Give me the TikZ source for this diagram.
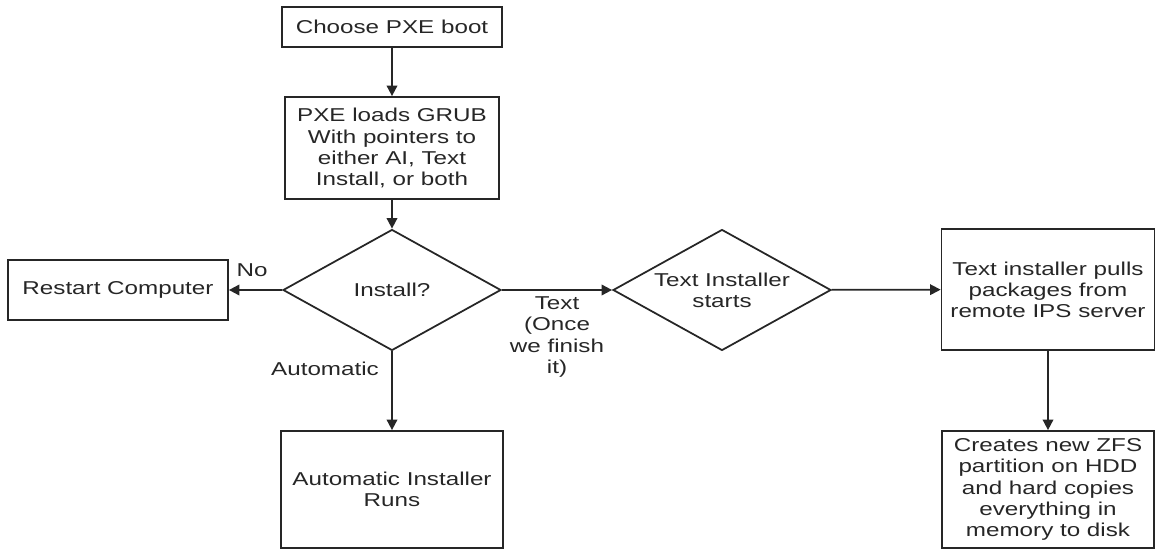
\documentclass[tikz,border=0pt]{standalone}
\usepackage{fontspec}
\setmainfont{Liberation Sans}[FakeStretch=1.3]
\usetikzlibrary{shapes.geometric,arrows.meta}

\begin{document}
\begin{tikzpicture}[x=0.02cm,y=-0.02cm,color=black!85,line width=1pt,
    txt/.style={align=center, font=\fontsize{10.6}{12}\selectfont},
    box/.style={draw, rectangle, inner sep=2pt, txt},
    ask/.style={draw, diamond, inner sep=0pt, minimum width=4.36cm, minimum height=2.42cm,
        label={[txt]center:#1}},
    flow/.style={-{Triangle[length=6pt,width=6pt]}}]
    \useasboundingbox (0,0) rectangle (1156,550);
    \node[box, minimum width=4.4cm, minimum height=0.8cm] (choose) at (392,27) {Choose PXE boot};
    \node[box, minimum width=4.28cm, minimum height=2.04cm] (grub) at (392,148)
        {PXE loads GRUB\\With pointers to\\either AI, Text\\Install, or both};
    \node[ask={Install?}] (install) at (392,290) {};
    \node[box, minimum width=4.4cm, minimum height=1.2cm] (restart) at (118,290) {Restart Computer};
    \node[box, minimum width=4.44cm, minimum height=2.34cm] (auto) at (392,489.5) {Automatic Installer\\Runs};
    \node[ask={Text Installer\\starts}] (textinst) at (722,290) {};
    \node[box, minimum width=4.26cm, minimum height=2.42cm] (pulls) at (1048,289.5)
        {Text installer pulls\\packages from\\remote IPS server};
    \node[box, minimum width=4.24cm, minimum height=2.34cm] (zfs) at (1048,489.5)
        {Creates new ZFS\\partition on HDD\\and hard copies\\everything in\\memory to disk};
    \node[txt] (no) at (252,270) {No};
    \node[txt] (automatic) at (325,369) {Automatic};
    \node[txt] (textnote) at (557,337) {Text\\(Once\\we finish\\it)};
    \draw[flow] (choose) -- (grub);
    \draw[flow] (grub) -- (install);
    \draw[flow] (install) -- (restart);
    \draw[flow] (install) -- (auto);
    \draw[flow] (install) -- (textinst);
    \draw[flow] (textinst) -- (pulls);
    \draw[flow] (pulls) -- (zfs);
\end{tikzpicture}
\end{document}
